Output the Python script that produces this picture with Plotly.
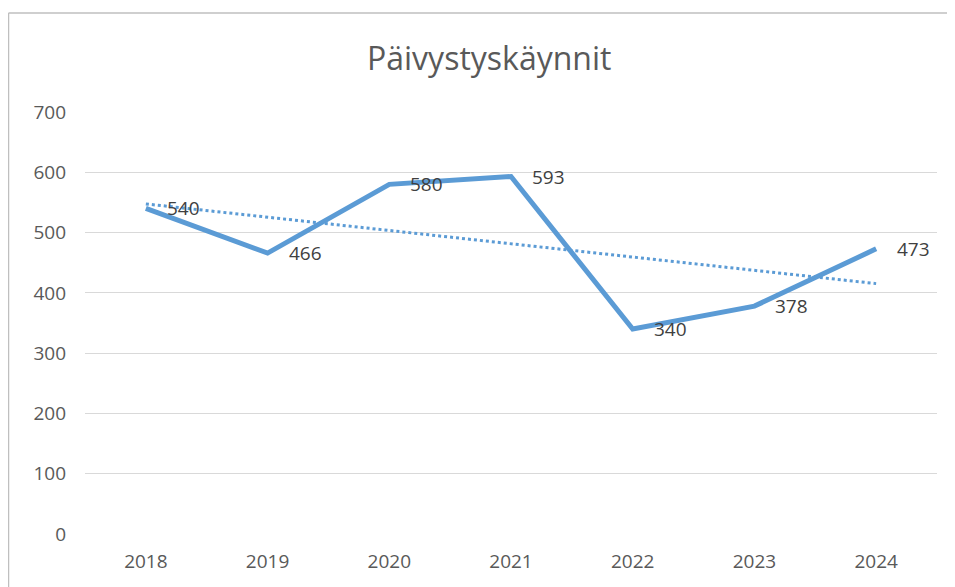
import numpy as np
import plotly.graph_objects as go

years = ["2018", "2019", "2020", "2021", "2022", "2023", "2024"]
visits = [540, 466, 580, 593, 340, 378, 473]
y_ticks = [0, 100, 200, 300, 400, 500, 600, 700]
title_text = "Päivystyskäynnit"

xi = np.arange(len(years))
slope, intercept = np.polyfit(xi, visits, 1)
trend = slope * xi + intercept

FONT = "Open Sans"
# page body has an 8px margin; plot area on page: x 85..937, y 112..534
PL, PR, PT, PB = 85, 937, 112, 534
PW, PH = PR - PL, PB - PT


def px(x):
    return (x - PL) / PW


def py(y):
    return (PB - y) / PH


fig = go.Figure()
fig.add_trace(go.Scatter(
    x=years, y=trend, mode="lines",
    line=dict(color="#5B9BD5", width=3, dash="dot"),
    hoverinfo="skip", showlegend=False))
fig.add_trace(go.Scatter(
    x=years, y=visits, mode="lines",
    line=dict(color="#5B9BD5", width=5),
    showlegend=False))

# category axis: annotation x given as category index
annotations = [dict(x=i, y=v, text=str(v), xref="x", yref="y",
                    xanchor="left", yanchor="middle", xshift=19,
                    showarrow=False,
                    font=dict(family=FONT, size=19, color="#404040"))
               for i, v in enumerate(visits)]
annotations.append(dict(text=title_text, xref="paper", yref="paper",
                        x=px(489), y=py(58),
                        xanchor="center", yanchor="middle", showarrow=False,
                        font=dict(family=FONT, size=32, color="#595959")))

fig.update_layout(
    width=947, height=579,
    margin=dict(l=PL - 8, r=955 - PR, t=PT - 8, b=587 - PB),
    paper_bgcolor="white", plot_bgcolor="white",
    font=dict(family=FONT, color="#595959"),
    xaxis=dict(type="category", range=[-0.5, 6.5], showgrid=False,
               showline=False, ticks="", tickfont=dict(size=19, color="#595959"),
               ticklabelstandoff=14, zeroline=False),
    yaxis=dict(range=[0, 700], tickvals=y_ticks, showgrid=True,
               gridcolor="#D9D9D9", gridwidth=1, zeroline=False,
               showline=False, ticks="", tickfont=dict(size=19, color="#595959"),
               ticklabelstandoff=18),
    annotations=annotations,
    shapes=[
        dict(type="line", xref="paper", yref="paper",
             x0=px(8.5), x1=px(960), y0=py(13), y1=py(13),
             line=dict(color="#BFBFBF", width=1.5)),
        dict(type="line", xref="paper", yref="paper",
             x0=px(8.5), x1=px(8.5), y0=py(13), y1=py(600),
             line=dict(color="#BFBFBF", width=1.5)),
    ],
)
fig.write_html("out.html")
